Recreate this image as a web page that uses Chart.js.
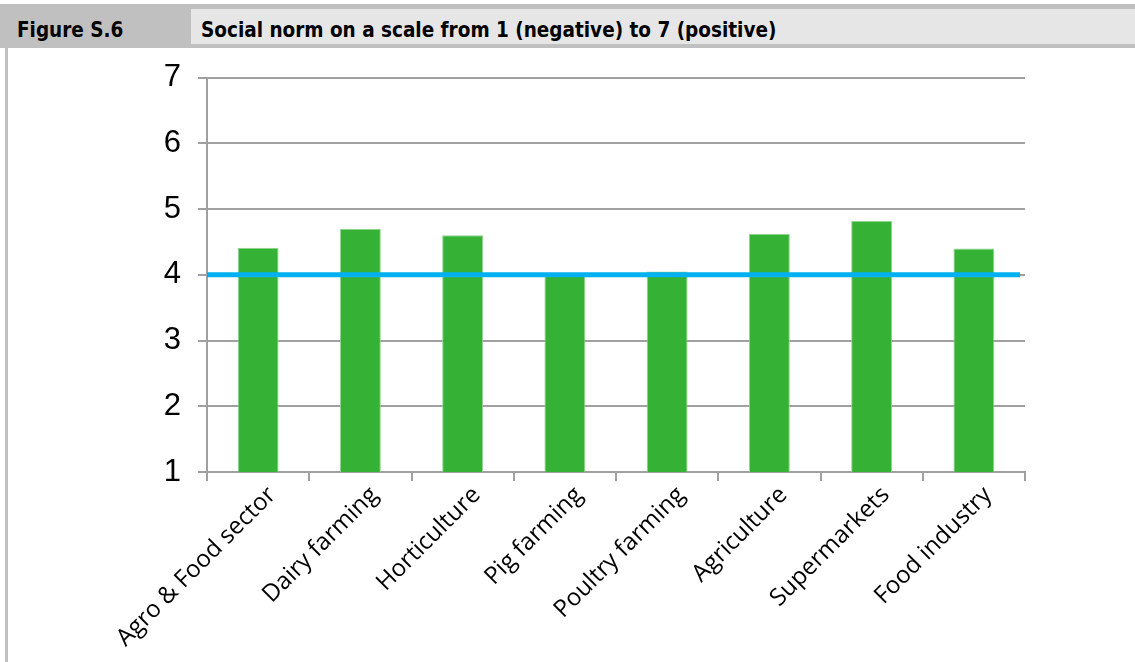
<!DOCTYPE html>
<html>
<head>
<meta charset="utf-8">
<script src="https://cdn.jsdelivr.net/npm/chart.js@4"></script>
<style>
  html, body { margin: 0; padding: 0; background: #fff; }
  body { width: 1135px; height: 662px; position: relative; overflow: hidden; }
  .header { position: absolute; left: 0; top: 4px; width: 1135px; height: 44px; background: #c0c0c0; }
  .fig { position: absolute; left: 0; top: 0; width: 191px; height: 44px;
         font: bold 20.5px "DejaVu Sans Condensed", "DejaVu Sans", sans-serif; font-stretch: condensed;
         line-height: 52px; color: #000; padding-left: 17px; box-sizing: border-box; }
  .title { position: absolute; left: 191px; top: 5px; right: 0; height: 35px; background: #e6e6e6;
           font: bold 20.5px "DejaVu Sans Condensed", "DejaVu Sans", sans-serif; font-stretch: condensed;
           line-height: 42px; color: #000; padding-left: 10px; box-sizing: border-box; }
  .leftborder { position: absolute; left: 5px; top: 48px; width: 3px; height: 614px; background: #c0c0c0; }
  .wrap { position: absolute; left: 8px; top: 42px; width: 1127px; height: 620px; }
</style>
</head>
<body>
<div class="header">
  <div class="fig">Figure S.6</div>
  <div class="title">Social norm on a scale from 1 (negative) to 7 (positive)</div>
</div>
<div class="leftborder"></div>
<div class="wrap"><canvas id="chart"></canvas></div>
<script>
const categories = ['Agro & Food sector', 'Dairy farming', 'Horticulture', 'Pig farming',
    'Poultry farming', 'Agriculture', 'Supermarkets', 'Food industry'];
const socialNorm = [4.41, 4.70, 4.60, 3.98, 4.05, 4.62, 4.82, 4.40];
const yTicks = [1, 2, 3, 4, 5, 6, 7];
const neutralValue = 4;

// blue reference line at the neutral point of the scale
const neutralLine = {
    id: 'neutralLine',
    afterDatasetsDraw(chart) {
        const { ctx, chartArea, scales } = chart;
        const y = scales.y.getPixelForValue(neutralValue);
        ctx.save();
        ctx.strokeStyle = '#00b0f0';
        ctx.lineWidth = 5;
        ctx.beginPath();
        ctx.moveTo(chartArea.left, y);
        ctx.lineTo(chartArea.right - 5, y);
        ctx.stroke();
        ctx.restore();
    }
};

const ctx = document.getElementById('chart').getContext('2d');
new Chart(ctx, {
    type: 'bar',
    data: {
        labels: categories,
        datasets: [{
            data: socialNorm,
            backgroundColor: '#35b235',
            borderColor: '#8fd48f',
            borderWidth: 1,
            barPercentage: 0.4,
            categoryPercentage: 1
        }]
    },
    options: {
        responsive: true,
        maintainAspectRatio: false,
        animation: false,
        layout: { padding: { top: 23, right: 110, left: 0, bottom: 0 } },
        plugins: { legend: { display: false }, tooltip: { enabled: false } },
        scales: {
            x: {
                afterFit: s => { s.height = 190; },
                grid: { offset: true, drawOnChartArea: false, tickLength: 9, color: '#a0a0a0', lineWidth: 2 },
                border: { color: '#a0a0a0', width: 2 },
                ticks: {
                    maxRotation: 45, minRotation: 45, padding: 0, labelOffset: 14,
                    color: '#000',
                    font: { family: '"Open Sans", sans-serif', size: 24 }
                }
            },
            y: {
                min: 1, max: 7,
                afterFit: s => { s.width = 199; },
                afterBuildTicks: s => { s.ticks = yTicks.map(v => ({ value: v })); },
                grid: { tickLength: 9, color: '#a0a0a0', lineWidth: 2 },
                border: { color: '#a0a0a0', width: 2 },
                ticks: {
                    padding: 17,
                    color: '#000',
                    font: { family: '"Liberation Sans Narrow", sans-serif', size: 31 }
                }
            }
        }
    },
    plugins: [neutralLine]
});
</script>
</body>
</html>
